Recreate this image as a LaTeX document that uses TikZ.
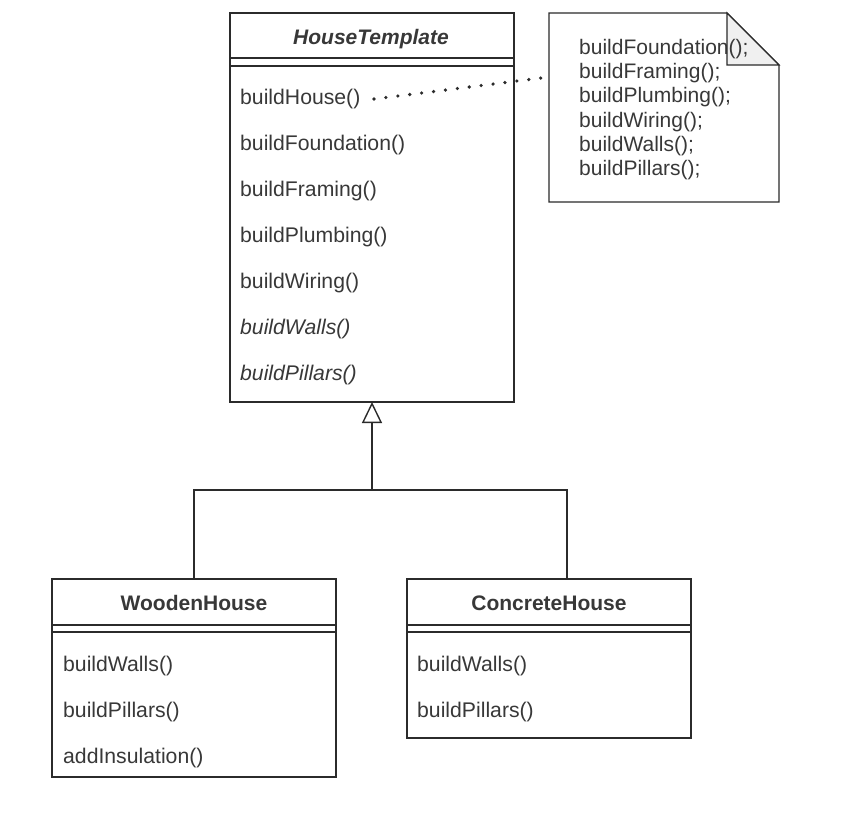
\documentclass[tikz,border=0pt]{standalone}
\usepackage{fontspec}
\setmainfont{Liberation Sans}
\usetikzlibrary{arrows.meta}
\definecolor{txt}{HTML}{383838}
\definecolor{ln}{HTML}{2B2B2B}
\definecolor{foldc}{HTML}{F0F0F0}
\begin{document}
\begin{tikzpicture}[x=1pt,y=-1pt,
  classbox/.style={draw=ln,line width=1.4pt,fill=white,anchor=north west,inner sep=0pt,outer sep=0pt},
  member/.style={anchor=base west,inner sep=0pt,text=txt,font=\fontsize{21.2}{24}\selectfont},
  ctitle/.style={anchor=base,inner sep=0pt,text=txt,font=\fontsize{21}{24}\selectfont\bfseries},
  conn/.style={draw=ln,line width=1.4pt},
  notetxt/.style={anchor=north west,inner sep=0pt,text=txt,align=left,font=\fontsize{21}{24.2}\selectfont}
]
\useasboundingbox[fill=white] (0,0) rectangle (867,812);

% HouseTemplate
\node[classbox,minimum width=284pt,minimum height=389pt] (ht) at (230,13) {};
\draw[conn] ([yshift=-45pt]ht.north west) -- ([yshift=-45pt]ht.north east);
\draw[conn] ([yshift=-53pt]ht.north west) -- ([yshift=-53pt]ht.north east);
\node[ctitle,font=\fontsize{21}{24}\selectfont\bfseries\itshape] (htt) at (371,44) {HouseTemplate};
\node[member] (m1) at (240,104) {buildHouse()};
\node[member] (m2) at (240,150) {buildFoundation()};
\node[member] (m3) at (240,196) {buildFraming()};
\node[member] (m4) at (240,242) {buildPlumbing()};
\node[member] (m5) at (240,288) {buildWiring()};
\node[member,font=\fontsize{21.2}{24}\selectfont\itshape] (m6) at (240,334) {buildWalls()};
\node[member,font=\fontsize{21.2}{24}\selectfont\itshape] (m7) at (240,380) {buildPillars()};

% Note
\node[inner sep=0pt,outer sep=0pt,anchor=north west,minimum width=230pt,minimum height=189pt] (note) at (549,13) {};
\draw[conn,fill=white,line width=1.2pt] (note.north west) -- ([xshift=-52pt]note.north east) -- ([yshift=-52pt]note.north east) -- (note.south east) -- (note.south west) -- cycle;
\draw[conn,fill=foldc,line width=1.2pt,line join=miter] ([xshift=-52pt]note.north east) -- ([xshift=-52pt,yshift=-52pt]note.north east) -- ([yshift=-52pt]note.north east) -- cycle;
\node[notetxt] (nt) at (579,39) {buildFoundation();\\buildFraming();\\buildPlumbing();\\buildWiring();\\buildWalls();\\buildPillars();};

% dotted link
\coordinate (ds) at (374,99);
\draw[draw=ln,line width=3.6pt,line cap=round,dash pattern=on 0pt off 12pt] (ds) -- ([yshift=-64pt]note.north west);

% Subclasses
\node[classbox,minimum width=284pt,minimum height=198pt] (wh) at (52,579) {};
\draw[conn] ([yshift=-46pt]wh.north west) -- ([yshift=-46pt]wh.north east);
\draw[conn] ([yshift=-53pt]wh.north west) -- ([yshift=-53pt]wh.north east);
\node[ctitle] (wht) at (194,610) {WoodenHouse};
\node[member] (w1) at (63,671) {buildWalls()};
\node[member] (w2) at (63,717) {buildPillars()};
\node[member] (w3) at (63,763) {addInsulation()};

\node[classbox,minimum width=284pt,minimum height=159pt] (ch) at (407,579) {};
\draw[conn] ([yshift=-46pt]ch.north west) -- ([yshift=-46pt]ch.north east);
\draw[conn] ([yshift=-53pt]ch.north west) -- ([yshift=-53pt]ch.north east);
\node[ctitle] (cht) at (549,610) {ConcreteHouse};
\node[member] (c1) at (417,671) {buildWalls()};
\node[member] (c2) at (417,717) {buildPillars()};

% Inheritance
\coordinate (jn) at (372,490);
\coordinate (cj) at (567,579);
\draw[conn] (wh.north) |- (jn) -| (cj);
\draw[conn,-{Triangle[open,width=20pt,length=21pt,line width=1.4pt]}] (jn) -- (ht.south);
\end{tikzpicture}
\end{document}
